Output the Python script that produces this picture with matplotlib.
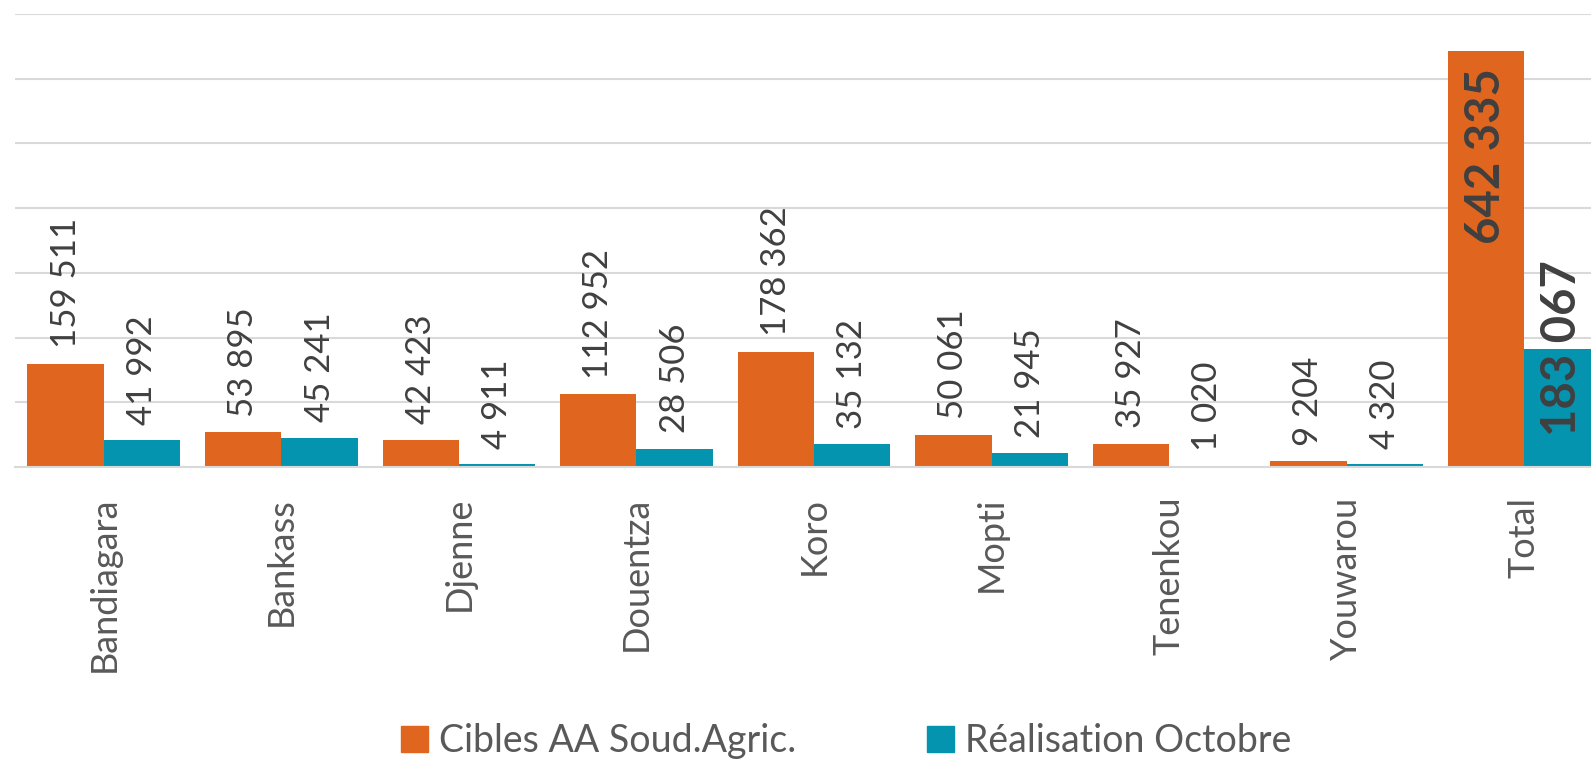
import numpy as np
import matplotlib.pyplot as plt
from matplotlib.patches import Patch

# Cercles de la region de Mopti
categories = ["Bandiagara", "Bankass", "Djenne", "Douentza", "Koro", "Mopti", "Tenenkou", "Youwarou", "Total"]
cibles = [159511, 53895, 42423, 112952, 178362, 50061, 35927, 9204, 642335]
realisation = [41992, 45241, 4911, 28506, 35132, 21945, 1020, 4320, 183067]
series_names = ["Cibles AA Soud.Agric.", "Réalisation Octobre"]

orange = "#E06620"
blue = "#0594B0"
label_col = "#404040"
tick_col = "#595959"

plt.rcParams['font.family'] = ['Lato', 'DejaVu Sans']


def fmt(v):
    # separateur de milliers avec espace
    return f"{v:,}".replace(",", " ")


fig = plt.figure(figsize=(15.91, 7.61), dpi=100)
# l'axe depasse un peu a droite (la derniere barre est coupee dans l'original)
ax = fig.add_axes([15 / 1591, 1 - 467 / 761, 1598 / 1591, 453 / 761])

x = np.arange(len(categories))
w = 0.43
b1 = ax.bar(x - w / 2, cibles, w, color=orange, zorder=2)
b2 = ax.bar(x + w / 2, realisation, w, color=blue, zorder=2)

ax.set_ylim(0, 700000)
ax.set_xlim(-0.5, len(categories) - 0.5)
ax.set_yticks(np.arange(0, 700001, 100000))
ax.yaxis.grid(True, color="#D9D9D9", linewidth=1.5, zorder=0)
ax.tick_params(axis="y", left=False, labelleft=False)
ax.tick_params(axis="x", bottom=False, pad=18)
for s in ["top", "right", "left"]:
    ax.spines[s].set_visible(False)
ax.spines["bottom"].set_color("#D9D9D9")
ax.spines["bottom"].set_linewidth(1.5)

ax.set_xticks(x)
ax.set_xticklabels(categories, rotation=90, fontsize=26, color=tick_col)

n = len(categories)
for i in range(n):
    xs = [x[i] - w / 2, x[i] + w / 2]
    vals = [cibles[i], realisation[i]]
    for xx, v in zip(xs, vals):
        if i == n - 1:
            continue
        ax.annotate(fmt(v), (xx, v), xytext=(0, 11), textcoords="offset points",
                    rotation=90, ha="center", va="bottom", fontsize=25, color=label_col)

# Totaux en gras
ax.annotate(fmt(cibles[-1]), (x[-1] - w / 2, cibles[-1]), xytext=(0, -12), textcoords="offset points",
            rotation=90, ha="center", va="top", fontsize=34, fontweight="bold", color=label_col)
ax.annotate(fmt(realisation[-1]), (x[-1] + w / 2, realisation[-1]), xytext=(0, 0), textcoords="offset points",
            rotation=90, ha="center", va="center", fontsize=34, fontweight="bold", color=label_col)

handles = [Patch(color=orange), Patch(color=blue)]
fig.legend(handles, series_names, loc="center", bbox_to_anchor=(0.532, 1 - 741 / 761), ncol=2,
           frameon=False, fontsize=27, labelcolor=tick_col, handlelength=0.7, handleheight=0.7,
           handletextpad=0.3, columnspacing=3.5)

fig.savefig("out.png", dpi=100)
